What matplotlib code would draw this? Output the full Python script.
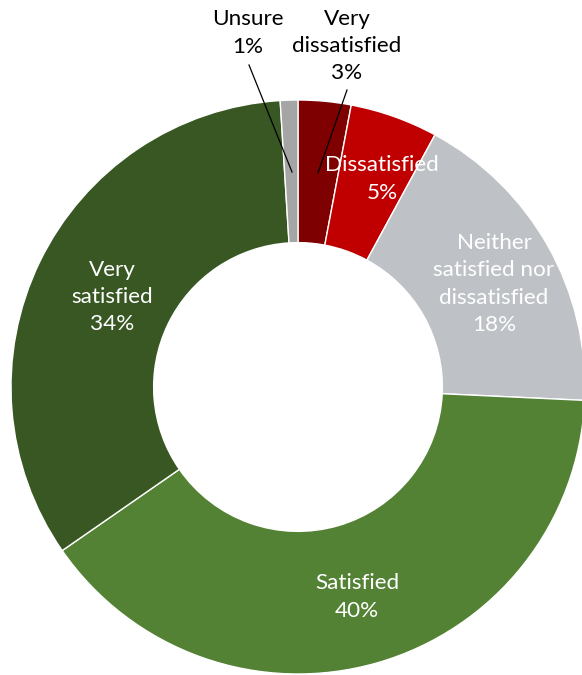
import matplotlib
matplotlib.use("Agg")
import matplotlib.pyplot as plt

categories = ["Very\ndissatisfied", "Dissatisfied", "Neither\nsatisfied nor\ndissatisfied",
              "Satisfied", "Very\nsatisfied", "Unsure"]
values = [3, 5, 18, 40, 34, 1]
colors = ["#7F0000", "#C00000", "#BEC2C6", "#548235", "#385723", "#A5A5A5"]

W, H = 582, 675
CX, CY, R = 298, 387, 287  # pie centre and outer radius in pixels


def px(x, y):
    """Pixel position (from top-left) to data units of the pie axes."""
    return (x - CX) / R, (CY - y) / R


fig = plt.figure(figsize=(W / 100, H / 100), dpi=100)
ax = fig.add_axes([0, 0, 1, 1])
ax.pie(values, colors=colors, startangle=90, counterclock=False,
       wedgeprops=dict(width=0.497, edgecolor="white", linewidth=1.0))
ax.set_aspect("equal")
ax.set_xlim(-CX / R, (W - CX) / R)
ax.set_ylim(-(H - CY) / R, CY / R)
ax.axis("off")

font = dict(family=["Lato", "DejaVu Sans"], fontsize=16.2, linespacing=1.45,
            ha="center", va="center")

# label text positions (pixels) and text colour
label_pos = [(347, 46), (382, 179), (494, 284), (357, 597), (112, 297), (248, 33)]
label_col = ["black", "white", "white", "white", "white", "black"]

for name, v, (x, y), c in zip(categories, values, label_pos, label_col):
    tx, ty = px(x, y)
    ax.text(tx, ty, f"{name}\n{v}%", color=c, **font)

# leader lines for the two labels placed outside the ring
for (x0, y0), (x1, y1) in [((347, 90), (318, 173)), ((249, 65), (292, 172))]:
    a, b = px(x0, y0)
    c, d = px(x1, y1)
    ax.plot([a, c], [b, d], color="black", linewidth=0.9)

fig.savefig("out.png", dpi=100)
